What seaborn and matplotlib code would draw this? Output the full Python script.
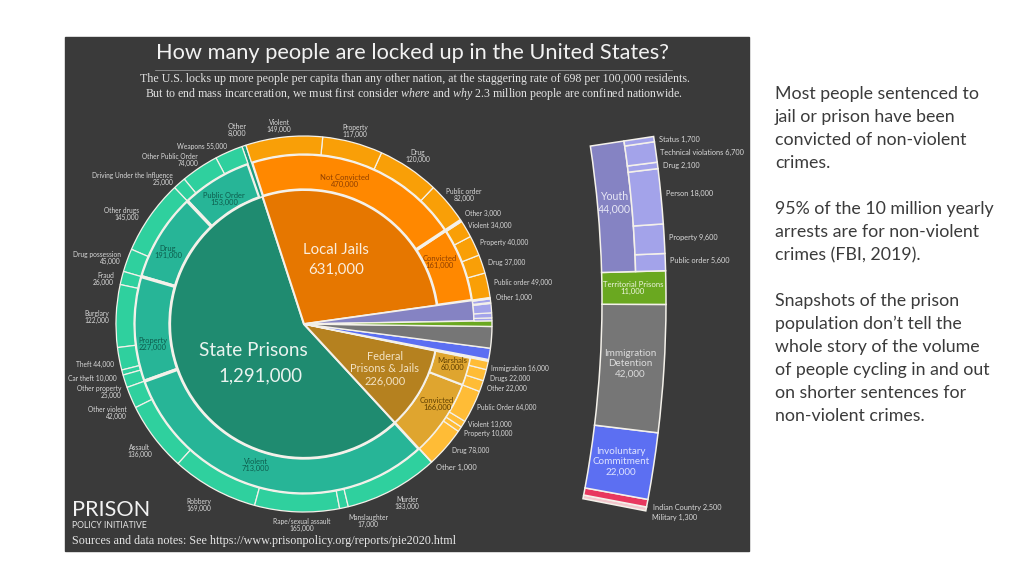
import numpy as np
import matplotlib
matplotlib.use('Agg')
import matplotlib.pyplot as plt
from matplotlib.patches import Rectangle
import seaborn as sns

sns.set_theme(style='white')
plt.rcParams['font.family'] = ['Lato', 'DejaVu Sans']
plt.rcParams['mathtext.fontset'] = 'custom'
plt.rcParams['mathtext.it'] = 'Liberation Serif:italic'
plt.rcParams['mathtext.rm'] = 'Liberation Serif'

# people held, counter-clockwise from the state prisons / local jails border
system_names = ['State Prisons', 'Federal', 'Military', 'Indian Country', 'Involuntary Commitment',
                'Immigration Detention', 'Territorial Prisons', 'Youth', 'Local Jails']
system_values = [1291000, 226000, 1300, 2500, 22000, 42000, 11000, 44000, 631000]

state_other = [8000]
state_mid_names = ['Public Order', 'Drug', 'Property', 'Violent']
state_mid_values = [153000, 191000, 227000, 713000]
state_public_names = ['Weapons', 'Other Public Order', 'Driving Under the Influence']
state_public_values = [55000, 74000, 25000]
state_drug_names = ['Other drugs', 'Drug possession']
state_drug_values = [145000, 45000]
state_property_names = ['Fraud', 'Burglary', 'Theft', 'Car theft', 'Other property']
state_property_values = [26000, 122000, 44000, 10000, 25000]
state_violent_names = ['Other violent', 'Assault', 'Robbery', 'Rape/sexual assault', 'Manslaughter', 'Murder']
state_violent_values = [42000, 136000, 169000, 165000, 17000, 183000]

federal_mid_names = ['Convicted', 'Marshals']
federal_mid_values = [166000, 60000]
federal_convicted_names = ['Other', 'Drug', 'Property', 'Violent', 'Public Order']
federal_convicted_values = [1000, 78000, 10000, 13000, 64000]
federal_marshals_names = ['Other', 'Drugs', 'Immigration']
federal_marshals_values = [22000, 22000, 16000]

local_mid_names = ['Convicted', 'Not Convicted']
local_mid_values = [161000, 470000]
local_convicted_names = ['Other', 'Public order', 'Drug', 'Property', 'Violent', 'Other']
local_convicted_values = [1000, 49000, 37000, 40000, 34000, 3000]
local_waiting_names = ['Public order', 'Drug', 'Property', 'Violent']
local_waiting_values = [82000, 120000, 117000, 149000]

youth_names = ['Public order', 'Property', 'Person', 'Drug', 'Technical violations', 'Status']
youth_values = [5600, 9600, 18000, 2100, 6700, 1700]

paragraphs = [
    ['Most people sentenced to', 'jail or prison have been', 'convicted of non-violent', 'crimes.'],
    ['95% of the 10 million yearly', 'arrests are for non-violent', 'crimes (FBI, 2019).'],
    ['Snapshots of the prison', 'population don\u2019t tell the', 'whole story of the volume',
     'of people cycling in and out', 'on shorter sentences for', 'non-violent crimes.'],
]

LINE = '#f4f1ea'
BG = '#3a3a3a'
LABEL = '#d9d9d9'
CX, CY, R = 304, 576 - 324, 188
R_MID, R_IN = 170, 134
TOTAL = sum(system_values)

fig = plt.figure(figsize=(10.24, 5.76), dpi=100)
ax = fig.add_axes([0, 0, 1, 1])
ax.add_patch(Rectangle((65, 576 - 551), 684, 514, color=BG, zorder=0))


def ring(values, share, start, radius, width, colors, lw=0.9, center=(CX, CY)):
    """one pie call, values spread over `share` of the whole circle"""
    values = np.asarray(values, dtype=float)
    fracs = values / values.sum() * share
    if isinstance(colors, str):
        colors = [colors] * len(values)
    ax.pie(fracs, startangle=start, radius=radius, center=center, colors=colors, normalize=False,
           frame=True, wedgeprops=dict(width=width, edgecolor=LINE, linewidth=lw))
    return start + 360 * share


def text(x, y, s, size=4.8, color=LABEL, ha='center', **kw):
    ax.text(x, 576 - y, s, fontsize=size, color=color, ha=ha, va='center', linespacing=1.15, **kw)


def share_of(v):
    return v / TOTAL


start_angle = 108
state_s, federal_s, mil_s, ind_s, inv_s, imm_s, ter_s, yth_s, loc_s = [share_of(v) for v in system_values]
a_state = start_angle
a_federal = a_state + 360 * state_s
a_small = a_federal + 360 * federal_s
a_youth = a_small + 360 * (mil_s + ind_s + inv_s + imm_s + ter_s)
a_local = a_youth + 360 * yth_s

# middle rings first, so their radial borders stay thick and the arcs get covered
other_s = state_s * state_other[0] / (sum(state_mid_values) + state_other[0])
mid_s = state_s - other_s
a = a_state + 360 * other_s
ring(state_mid_values, mid_s, a, R_MID, R_MID - R_IN, '#27b597', lw=2.4)
ring(federal_mid_values, federal_s, a_federal, R_MID, R_MID - R_IN, '#dfa52f', lw=1.5)
ring(local_mid_values, loc_s, a_local, R_MID, R_MID - R_IN, '#ff8800', lw=2.4)

# centre wedges
ring(system_values[:1], state_s, a_state, R_IN, None, '#1f8b70', lw=1.6)
ring(system_values[1:2], federal_s, a_federal, R_IN, None, '#b5811f', lw=1.4)
ring(system_values[-1:], loc_s, a_local, R_IN, None, '#e67700', lw=1.4)
ring(system_values[7:8], yth_s, a_youth, R_MID, None, '#8583c3', lw=1.2)
ring(system_values[2:7], mil_s + ind_s + inv_s + imm_s + ter_s, a_small, R, None,
     ['#f3c6cc', '#e8385f', '#5c6ff2', '#767676', '#6aa820'], lw=1.0)

# outer ring
ring(state_other, other_s, a_state, R, R - R_IN, '#1d9b7e', lw=0.9)
groups = [state_public_values, state_drug_values, state_property_values, state_violent_values]
a = a_state + 360 * other_s
for vals, parent in zip(groups, state_mid_values):
    a = ring(vals, mid_s * parent / sum(state_mid_values), a, R, R - R_MID, '#2fd09e')
a = a_federal
for vals, parent in zip([federal_convicted_values, federal_marshals_values], federal_mid_values):
    a = ring(vals, federal_s * parent / sum(federal_mid_values), a, R, R - R_MID, '#ffbc36')
a = a_local
for vals, parent in zip([local_convicted_values, local_waiting_values], local_mid_values):
    a = ring(vals, loc_s * parent / sum(local_mid_values), a, R, R - R_MID, '#f99f07')
ring(youth_values, yth_s, a_youth, R, R - R_MID, '#a3a3ea')

# the convicted / not convicted border runs through the outer ring too
t = np.radians(a_local + 360 * loc_s * local_mid_values[0] / sum(local_mid_values))
ax.plot([CX + R_MID * np.cos(t), CX + R * np.cos(t)], [CY + R_MID * np.sin(t), CY + R * np.sin(t)],
        color=LINE, lw=2.2, solid_capstyle='butt')

# the exploded strip on the right, part of a much larger circle
S_CX, S_CY = -434, 576 - 301
S_R, S_SPLIT, S_IN = 1100, 1070, 1036
S_START, S_SPAN = -11.0, 19.6
strip_values = system_values[2:8]
strip_share = S_SPAN / 360
strip_total = sum(strip_values)
s_center = (S_CX, S_CY)
ring(strip_values[:5], strip_share * sum(strip_values[:5]) / strip_total, S_START, S_R, S_R - S_IN,
     ['#f3c6cc', '#e8385f', '#5c6ff2', '#767676', '#6aa820'], lw=1.1, center=s_center)
s_youth = S_START + S_SPAN * sum(strip_values[:5]) / strip_total
y_share = strip_share * strip_values[5] / strip_total
ring(strip_values[5:], y_share, s_youth, S_SPLIT, S_SPLIT - S_IN, '#8583c3', lw=1.1, center=s_center)
ring(youth_values, y_share, s_youth, S_R, S_R - S_SPLIT, '#a3a3ea', lw=1.1, center=s_center)

# header
text(412, 53, 'How many people are locked up in the United States?', size=15.65, color='#f2f2f2')
ax.plot([155, 672], [576 - 70, 576 - 70], color='#8a8a8a', lw=0.7)
text(140, 79, 'The U.S. locks up more people per capita than any other nation, at the staggering rate of 698 per 100,000 residents.',
     size=8.55, color='#e2e2e2', ha='left', family='Liberation Serif')
text(145, 94, 'But to end mass incarceration, we must first consider $\\mathit{where}$ and $\\mathit{why}$ 2.3 million people are confined nationwide.',
     size=8.55, color='#e2e2e2', ha='left', family='Liberation Serif')

# footer
text(72, 510, 'PRISON', size=15.6, color='#f2f2f2', ha='left')
text(72, 526, 'POLICY INITIATIVE', size=6.2, color='#e6e6e6', ha='left')
text(72, 541, 'Sources and data notes: See https://www.prisonpolicy.org/reports/pie2020.html',
     size=8.75, color='#e6e6e6', ha='left', family='Liberation Serif')


def thousands(v):
    return f'{v:,}'


def two(name, v):
    return f'{name}\n{thousands(v)}'


def one(name, v):
    return f'{name} {thousands(v)}'


# big labels inside the pie
text(253, 351, system_names[0], size=13.6, color='#e9f3ef')
text(260, 376, thousands(system_values[0]), size=13.4, color='#e9f3ef')
text(336, 250, system_names[-1], size=10.8, color='#fbeedd')
text(336, 270, thousands(system_values[-1]), size=10.8, color='#fbeedd')
text(385, 369, f'{system_names[1]}\nPrisons & Jails\n{thousands(system_values[1])}', size=7.9, color='#f3e3c4')

DARK_T, DARK_O, DARK_Y = '#0d5c4c', '#8f3f00', '#5f3f00'
mid_xy = [(224, 199), (168, 252), (153, 344), (256, 465)]
for n, v, (x, y) in zip(state_mid_names, state_mid_values, mid_xy):
    text(x, y, two(n, v), size=5.4, color=DARK_T)
text(237, 130, two('Other', state_other[0]), size=5.2)
text(345, 181, two(local_mid_names[1], local_mid_values[1]), size=5.5, color=DARK_O)
text(440, 262, two(local_mid_names[0], local_mid_values[0]), size=5.5, color=DARK_O)
text(437, 404, two(federal_mid_names[0], federal_mid_values[0]), size=5.5, color=DARK_Y)
text(452, 364, two(federal_mid_names[1], federal_mid_values[1]), size=5.5, color=DARK_Y)

# labels outside the pie: (x, y, ha, two lines?)
outer_labels = [
    (state_public_names, state_public_values, [(227, 146, 'right', 0), (198, 160, 'right', 1), (173, 179, 'right', 1)]),
    (state_drug_names, state_drug_values, [(139, 214, 'right', 1), (121, 258, 'right', 1)]),
    (state_property_names, state_property_values, [(114, 279, 'right', 1), (109, 317, 'right', 1), (114, 364, 'right', 0),
                                                   (117, 378, 'right', 0), (121, 392, 'right', 1)]),
    (state_violent_names, state_violent_values, [(127, 413, 'right', 1), (140, 451, 'center', 1), (199, 505, 'center', 1),
                                                 (302, 525, 'center', 1), (368, 521, 'center', 1), (407, 503, 'center', 1)]),
    (federal_convicted_names, federal_convicted_values, [(456, 467, 'center', 0), (471, 450, 'center', 0), (488, 433, 'center', 0),
                                                         (490, 424, 'center', 0), (507, 407, 'center', 0)]),
    (federal_marshals_names, federal_marshals_values, [(507, 388, 'center', 0), (510, 378, 'center', 0), (520, 368, 'center', 0)]),
    (local_convicted_names, local_convicted_values, [(514, 297, 'center', 0), (523, 282, 'center', 0), (507, 262, 'center', 0),
                                                     (504, 242, 'center', 0), (490, 225, 'center', 0), (483, 213, 'center', 0)]),
    (local_waiting_names, local_waiting_values, [(464, 195, 'center', 1), (418, 156, 'center', 1), (355, 131, 'center', 1),
                                                 (279, 126, 'center', 1)]),
]
for names, values, spots in outer_labels:
    for n, v, (x, y, ha, lines) in zip(names, values, spots):
        text(x, y, two(n, v) if lines else one(n, v), ha=ha, multialignment=ha,
             size=5.4 if (x, y) == (456, 467) else 4.8)

# strip labels
youth_xy = [(670, 260), (669, 237), (666, 193), (663, 165), (660, 152), (659, 139)]
for n, v, (x, y) in zip(youth_names, youth_values, youth_xy):
    text(x, y, one(n, v), ha='left', size=5.3)
text(653, 507, one(system_names[3], system_values[3]), ha='left', size=5.3)
text(652, 517, one(system_names[2], system_values[2]), ha='left', size=5.3)
text(614, 203, two(system_names[7], system_values[7]), size=7.6, color='#e8e8f6')
text(633, 288, two(system_names[6], system_values[6]), size=5.6, color='#eef5df')
text(630, 364, f'Immigration\nDetention\n{thousands(system_values[5])}', size=7.1, color='#dcdcdc')
text(621, 462, f'Involuntary\nCommitment\n{thousands(system_values[4])}', size=7.1, color='#dfe3ff')

# commentary on the right
y = 94
for para in paragraphs:
    for line in para:
        text(775, y, line, size=12.8, color='#3b3b3b', ha='left')
        y += 23
    y += 23

ax.set_xlim(0, 1024)
ax.set_ylim(0, 576)
ax.set_axis_off()
sns.despine(ax=ax, left=True, bottom=True)
fig.savefig('out.png', dpi=100, facecolor='white')
